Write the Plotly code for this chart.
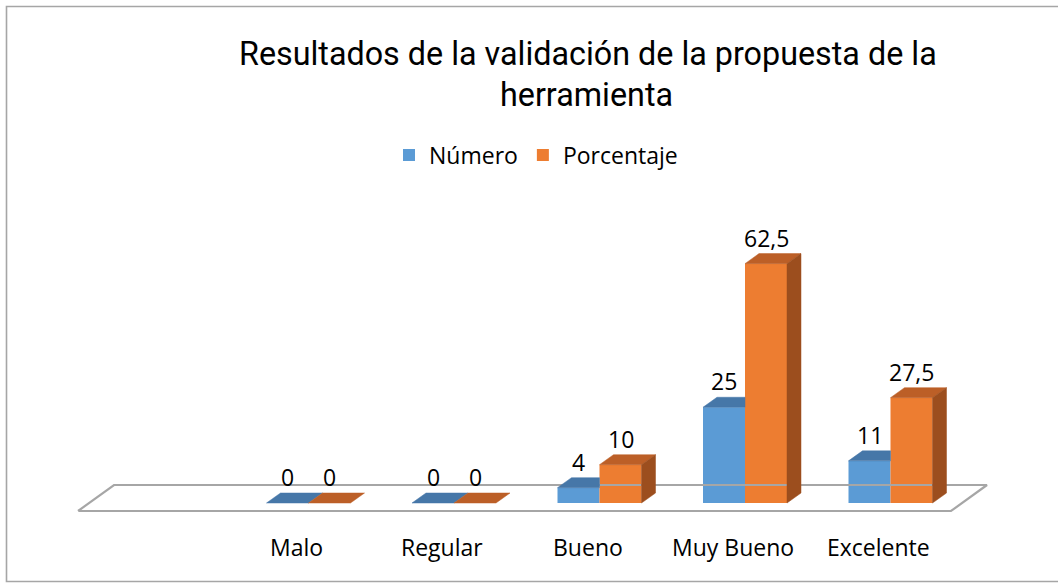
import plotly.graph_objects as go

# Data
categorias = ["Malo", "Regular", "Bueno", "Muy Bueno", "Excelente"]
numero = [0, 0, 4, 25, 11]
porcentaje = [0, 0, 10, 62.5, 27.5]
series_nombres = ["Número", "Porcentaje"]

# Canvas and pseudo-3D geometry (axis units)
W, H = 1058, 583
X0_PX, X_STEP = 308.5, 145.5      # pixel of category 0, pixels per category
Y0_PX, Y_SCALE = 503.0, 3.83       # pixel of value 0, pixels per unit
BAR_W = 42 / X_STEP
DX = 14 / X_STEP                   # depth offset to the right
DY = 10 / Y_SCALE                  # depth offset upward

COL_FRONT = ["#5B9BD5", "#ED7D31"]
COL_TOP = ["#4677A8", "#BC5F27"]
COL_SIDE = ["#3A638C", "#9C4E1E"]
GRID = "#A6A6A6"
FONT_TXT = "Open Sans, Noto Sans, sans-serif"
TXT_SIZE = 23


def px_x(p):
    return (p - X0_PX) / X_STEP


def px_y(p):
    return (Y0_PX - p) / Y_SCALE


fig = go.Figure()

# Front faces as real bars
series = [numero, porcentaje]
offsets = [-BAR_W / 2, BAR_W / 2]
for s, vals in enumerate(series):
    fig.add_trace(go.Bar(
        x=[i + offsets[s] for i in range(len(categorias))],
        y=vals,
        width=BAR_W,
        name=series_nombres[s],
        marker=dict(color=COL_FRONT[s], line=dict(width=0)),
        showlegend=True,
    ))

# Floor of the 3D plot
floor_x = [px_x(78), px_x(114), px_x(987), px_x(951), px_x(78)]
floor_y = [px_y(511), px_y(485), px_y(485), px_y(511), px_y(511)]
fig.add_trace(go.Scatter(x=floor_x, y=floor_y, mode="lines",
                         line=dict(color=GRID, width=2.2),
                         hoverinfo="skip", showlegend=False))


def poly(xs, ys, color):
    fig.add_trace(go.Scatter(x=xs + [xs[0]], y=ys + [ys[0]], mode="lines",
                             fill="toself", fillcolor=color,
                             line=dict(color=color, width=0.5),
                             hoverinfo="skip", showlegend=False))


# Top and side faces
for i in range(len(categorias)):
    vb, vo = numero[i], porcentaje[i]
    # blue column
    xl, xr = i - BAR_W, i
    if vo > vb:
        # the part behind the orange front face is hidden
        poly([xl, xl + DX, xr, xr], [vb, vb + DY, vb + DY, vb], COL_TOP[0])
    else:
        poly([xl, xl + DX, xr + DX, xr], [vb, vb + DY, vb + DY, vb], COL_TOP[0])
    # orange column
    xl, xr = i, i + BAR_W
    poly([xl, xl + DX, xr + DX, xr], [vo, vo + DY, vo + DY, vo], COL_TOP[1])
    if vo > 0:
        poly([xr, xr + DX, xr + DX, xr], [0, DY, vo + DY, vo], COL_SIDE[1])

# Value labels
for s, vals in enumerate(series):
    for i, v in enumerate(vals):
        fig.add_annotation(x=i + offsets[s], y=v, yshift=26,
                           text=f"{v:g}".replace(".", ","),
                           showarrow=False, xanchor="center", yanchor="middle",
                           font=dict(family=FONT_TXT, size=TXT_SIZE, color="#000000"))

# Category labels
for i, c in enumerate(categorias):
    fig.add_annotation(x=i, y=px_y(547), xshift=-12, text=c,
                       showarrow=False, xanchor="center", yanchor="middle",
                       font=dict(family=FONT_TXT, size=TXT_SIZE, color="#000000"))

# Title (two lines)
for txt, cx, cy in [("Resultados de la validación de la propuesta de la", 587.5, 54),
                    ("herramienta", 586, 95)]:
    fig.add_annotation(xref="paper", yref="paper", x=cx / W, y=(H - cy) / H,
                       text=txt, showarrow=False, xanchor="center", yanchor="middle",
                       font=dict(family="Roboto, sans-serif", size=32.3, color="#000000"))

# Chart border
fig.add_shape(type="rect", xref="paper", yref="paper",
              x0=6.5 / W, x1=1.02, y0=(H - 581.5) / H, y1=(H - 6.5) / H,
              line=dict(color=GRID, width=1.6), fillcolor="rgba(0,0,0,0)")

fig.update_layout(
    width=W, height=H,
    margin=dict(l=0, r=0, t=0, b=0),
    paper_bgcolor="white", plot_bgcolor="white",
    barmode="overlay",
    xaxis=dict(range=[px_x(0), px_x(W)], visible=False, fixedrange=True),
    yaxis=dict(range=[px_y(H), px_y(0)], visible=False, fixedrange=True),
    legend=dict(orientation="h", x=536 / W, y=(H - 155) / H,
                xanchor="center", yanchor="middle",
                font=dict(family=FONT_TXT, size=TXT_SIZE, color="#000000"),
                itemwidth=30, itemsizing="constant", bgcolor="rgba(0,0,0,0)"),
    showlegend=True,
)

fig.write_html("out.html")
